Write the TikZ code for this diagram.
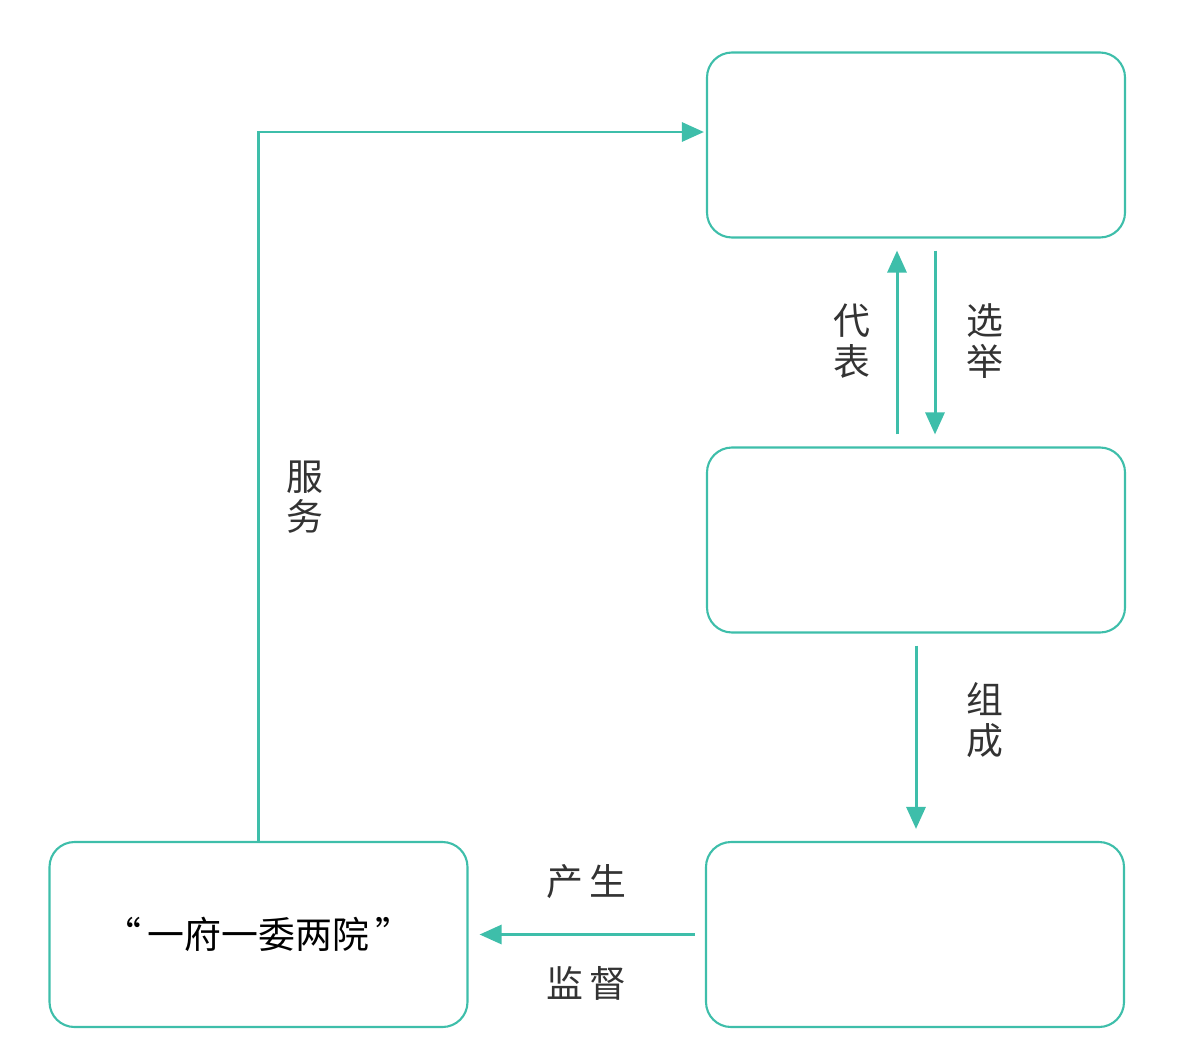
\documentclass[tikz,border=0pt]{standalone}
\usepackage{fontspec}
\setmainfont{Noto Sans CJK SC}
\usetikzlibrary{arrows.meta}
\definecolor{flowteal}{RGB}{62,190,170}
\tikzset{
  organ/.style={draw=flowteal, line width=0.6pt, rounded corners=0.25cm,
    minimum width=4.18cm, minimum height=1.85cm, font=\fontsize{10.5}{12}\selectfont},
  flow/.style={draw=flowteal, line width=0.85pt,
    -{Triangle[length=2.2mm, width=1.9mm, fill=flowteal]}},
  labelCN/.style={font=\fontsize{10.5}{11.5}\selectfont, align=center, text=black!80}
}
\def\Gap{0.12}
\begin{document}
\begin{tikzpicture}
  \useasboundingbox (0,0) rectangle (11.98,10.61);

  % boxes
  \node[organ] (top)  at (9.16, 9.16) {};
  \node[organ] (mid)  at (9.16, 5.21) {};
  \node[organ] (botR) at (9.15, 1.265) {};
  \node[organ] (left) at (2.585, 1.265) {“\,一府一委两院\,”};

  % top <-> mid
  \draw[flow] ([xshift=-0.19cm, yshift=\Gap cm]mid.north) -- ([xshift=-0.19cm, yshift=-\Gap cm]top.south);
  \draw[flow] ([xshift=0.19cm, yshift=-\Gap cm]top.south) -- ([xshift=0.19cm, yshift=\Gap cm]mid.north);
  \node[labelCN] (daibiao) at (8.52, 7.20) {代\\表};
  \node[labelCN] (xuanju)  at (9.85, 7.20) {选\\举};

  % mid -> botR
  \draw[flow] ([yshift=-\Gap cm]mid.south) -- ([yshift=\Gap cm]mid.south |- botR.north);
  \node[labelCN] (zucheng) at (9.85, 3.41) {组\\成};

  % botR -> left
  \draw[flow] ([xshift=-0.1cm]botR.west) -- ([xshift=0.11cm]left.east);
  \node[labelCN] (chansheng) at (5.86, 1.79) {产\,生};
  \node[labelCN] (jiandu)    at (5.86, 0.78) {监\,督};

  % left -> top
  \draw[flow] (left.north) |- ([xshift=-0.02cm, yshift=0.13cm]top.west);
  \node[labelCN] (fuwu) at (3.05, 5.64) {服\\务};
\end{tikzpicture}
\end{document}
